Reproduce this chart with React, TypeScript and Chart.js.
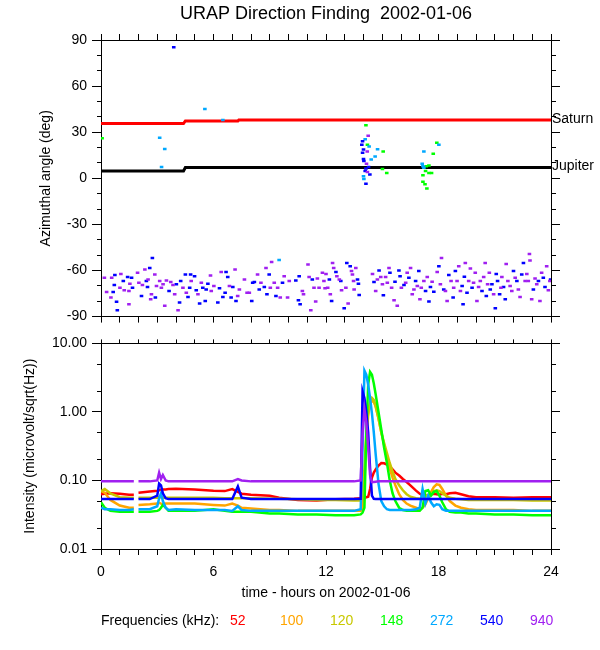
import React, { useEffect, useRef } from "react";
import { Chart, registerables } from "chart.js";

Chart.register(...registerables);

const FONT = "'Liberation Sans', Arial, Helvetica, sans-serif";

// ---------- texts ----------
const titleText = "URAP Direction Finding  2002-01-06";
const angleAxisTitle = "Azimuthal angle (deg)";
const intensityAxisTitle = "Intensity (microvolt/sqrt(Hz))";
const timeAxisTitle = "time - hours on 2002-01-06";
const legendTitle = "Frequencies (kHz):";

// ---------- ticks ----------
const hourLabels = [0, 6, 12, 18, 24];
const angleMajor = [-90, -60, -30, 0, 30, 60, 90];
const intensityMajor = [0.01, 0.1, 1, 10];
const intensityMinor = [0.02, 0.05, 0.2, 0.5, 2, 5];

// ---------- frequencies ----------
const freqLabels = ["52", "100", "120", "148", "272", "540", "940"];
const freqColors = ["#ff0000", "#ffa500", "#c8c800", "#00ff00", "#00a8ff", "#0000ff", "#a020f0"];

// ---------- planets (top panel) ----------
const planetNames = ["Saturn", "Jupiter"];
const saturnHours = [0, 4.4, 4.5, 7.3, 7.35, 24];
const saturnAngle = [35.6, 35.6, 37.3, 37.3, 38.0, 38.0];
const jupiterHours = [0, 4.4, 4.5, 24];
const jupiterAngle = [4.7, 4.7, 7.0, 7.0];

// ---------- direction-finding points [hour, deg] ----------
const az940: [number, number][] = [
  [0.18, -64.7], [0.30, -74.0], [0.57, -64.7], [0.53, -77.6], [1.06, -62.2], [1.01, -71.2], [1.24, -72.9],
  [1.49, -73.3], [1.54, -68.6], [1.49, -81.9], [1.95, -61.5], [2.02, -68.0], [2.21, -69.5], [2.34, -59.4],
  [2.51, -65.8], [2.65, -78.7], [2.69, -75.5], [2.87, -62.6], [2.96, -70.1], [3.13, -66.9], [3.22, -71.2],
  [3.31, -69.0], [3.40, -83.0], [3.49, -66.5], [3.72, -67.5], [3.84, -69.5], [3.93, -75.5], [4.11, -85.8],
  [4.37, -71.2], [4.55, -74.4], [4.81, -66.9], [5.17, -75.5], [5.35, -68.0], [5.84, -63.2], [5.88, -73.3],
  [6.02, -70.1], [6.41, -60.9], [6.85, -70.1], [7.15, -59.4], [7.29, -76.6], [7.38, -72.3], [7.65, -65.8],
  [7.79, -74.4], [7.91, -74.4], [8.35, -62.6], [8.53, -68.0], [8.80, -58.3], [9.03, -71.2], [9.10, -54.4],
  [9.24, -68.0], [9.42, -71.2], [9.56, -77.6], [9.77, -63.7], [9.95, -77.6], [10.04, -66.9], [10.74, -73.3],
  [10.80, -75.5], [11.04, -56.1], [11.10, -64.3], [11.19, -85.8], [11.36, -71.2], [11.45, -80.2], [11.54, -65.2],
  [11.63, -71.2], [11.81, -61.5], [11.89, -66.9], [11.95, -71.6],
  [12.0, -62.2], [12.09, -71.2], [12.23, -75.5], [12.35, -55.1], [12.41, -58.3], [12.58, -63.7], [12.71, -65.8],
  [12.83, -72.9], [13.06, -71.2], [13.18, -81.5], [13.36, -60.4], [13.41, -62.6], [13.47, -66.9], [13.50, -72.3],
  [13.59, -58.3], [14.48, -62.2], [14.65, -73.3], [14.74, -65.8], [14.92, -64.3], [15.01, -69.0], [15.18, -64.3],
  [15.27, -68.0], [15.36, -58.3], [15.50, -71.2], [15.63, -79.4], [15.80, -83.0], [16.02, -71.2], [16.25, -68.0],
  [16.33, -61.5], [16.51, -58.3], [16.60, -75.5], [16.69, -72.3], [16.87, -70.1], [17.01, -78.7], [17.08, -71.2],
  [17.22, -66.9], [17.40, -64.3], [17.66, -67.3], [17.93, -60.9], [18.10, -69.0], [18.16, -51.8], [18.37, -73.3],
  [18.46, -79.8], [18.67, -66.9], [18.81, -71.2], [18.99, -66.9], [19.08, -57.2], [19.17, -73.3], [19.43, -55.1],
  [19.61, -66.9], [19.70, -58.7], [19.87, -68.0], [19.96, -61.5], [20.05, -79.8], [20.14, -70.8], [20.23, -66.9],
  [20.41, -64.3], [20.49, -55.1], [20.62, -69.0], [20.71, -61.5], [20.94, -75.5], [21.33, -71.2], [21.38, -64.3],
  [21.61, -55.7], [21.70, -66.9], [21.82, -70.1], [21.91, -73.3], [22.09, -64.7], [22.26, -72.3], [22.35, -77.2],
  [22.62, -66.9], [22.71, -62.2], [22.79, -66.9], [22.85, -49.2], [22.88, -53.5], [22.97, -78.7], [23.15, -65.2],
  [23.24, -69.0], [23.41, -79.8], [23.50, -61.5], [23.77, -57.2], [23.86, -72.9], [23.94, -66.9],
  [14.25, 27.7], [14.20, 17.4], [14.16, 9.5], [14.21, 4.1],
];

const az540: [number, number][] = [
  [0.71, -69.5], [0.74, -63.0], [0.65, -74.0], [0.83, -80.4], [0.87, -85.8], [1.19, -66.9], [1.42, -64.3],
  [1.63, -64.7], [1.68, -71.2], [2.16, -76.6], [2.42, -66.9], [2.48, -70.8], [2.60, -58.3], [2.74, -51.8],
  [2.90, -77.6], [3.63, -73.3], [4.02, -69.0], [4.19, -80.9], [4.25, -66.9], [4.50, -62.6], [4.64, -77.2],
  [4.73, -71.2], [4.78, -62.6], [4.99, -63.7], [5.08, -72.9], [5.26, -81.5], [5.43, -71.2], [5.56, -79.8],
  [5.61, -72.3], [5.70, -68.6], [6.23, -80.9], [6.32, -71.6], [6.50, -77.2], [6.62, -74.4], [6.67, -60.9],
  [6.76, -64.3], [6.94, -77.6], [7.03, -70.8], [7.20, -79.8], [8.04, -79.8], [8.09, -68.0], [8.18, -67.5],
  [8.44, -72.3], [8.71, -70.8], [8.85, -75.5], [8.97, -62.6], [9.33, -76.6], [9.68, -68.0], [10.39, -66.5],
  [10.53, -79.4], [10.62, -81.9], [10.57, -63.7], [11.27, -65.8],
  [12.18, -65.8], [12.30, -79.8], [12.53, -60.9], [12.79, -66.9], [12.97, -84.5], [13.11, -55.1], [13.29, -57.2],
  [13.68, -65.8], [13.73, -68.6], [13.77, -75.9], [14.56, -67.5], [14.83, -60.0], [15.06, -76.1], [15.41, -61.5],
  [15.68, -67.3], [15.89, -60.0], [15.95, -63.7], [16.16, -69.5], [16.42, -64.7], [16.78, -66.9], [16.95, -60.4],
  [17.31, -73.3], [17.49, -80.2], [17.57, -70.8], [17.75, -73.8], [18.02, -57.2], [18.28, -72.3], [18.55, -63.0],
  [18.78, -77.6], [18.90, -60.4], [19.26, -70.1], [19.31, -81.9], [19.38, -64.1], [19.52, -74.4], [19.79, -71.2],
  [20.32, -73.3], [20.55, -76.6], [20.76, -72.3], [20.85, -69.0], [21.03, -84.5], [21.08, -62.2], [21.15, -66.9],
  [21.26, -75.5], [21.47, -70.8], [21.56, -78.7], [22.0, -60.4], [22.18, -66.9], [22.44, -62.6], [22.53, -55.1],
  [23.06, -72.3], [23.33, -66.9], [23.59, -64.7], [23.68, -70.8], [23.98, -65.8],
  [3.88, 85.3],
  [13.95, 24.1], [13.91, 21.9], [14.0, 18.7], [13.95, 16.6], [14.0, 12.5], [14.02, 11.2], [14.27, 7.3],
  [14.13, 6.3], [14.09, 4.8], [14.34, 2.4], [14.13, -3.6],
];

const az272: [number, number][] = [
  [3.13, 26.4], [3.40, 19.1], [3.23, 7.3], [5.54, 45.1], [6.50, 38.0], [9.50, -53.1],
  [14.09, 25.4], [14.30, 20.7], [14.75, 18.9], [14.62, 14.2], [14.41, 12.3], [14.0, 1.3], [14.02, -0.4],
  [17.22, 17.4], [17.13, 9.5], [17.17, 7.8], [17.22, 6.9], [18.02, 21.9],
];

const az148: [number, number][] = [
  [0.06, 26.0], [14.13, 34.6], [14.21, 21.9], [15.05, 17.4], [15.01, 6.1], [15.24, 3.5],
  [17.91, 23.2], [17.72, 15.9], [17.35, 7.8], [17.49, 8.4], [17.31, 4.8], [17.49, 3.5], [17.63, 3.5],
  [17.17, 2.0], [17.17, -2.3], [17.28, -3.8], [17.38, -6.6],
];

// ---------- intensity (bottom panel) ----------
const intensityHours = [
  0, 0.2, 0.5, 1.0, 1.5, 1.75, 1.85, 2.0, 2.6, 3.0,
  3.1, 3.2, 3.3, 3.45, 3.6, 4.0, 5.0, 6.0, 6.6, 7.0,
  7.3, 7.5, 8.0, 9.0, 9.5, 10.5, 11.5, 12.5, 13.5, 13.85,
  13.95, 14.05, 14.15, 14.25, 14.35, 14.45, 14.55, 14.65, 14.8, 14.95,
  15.1, 15.25, 15.4, 15.55, 15.7, 15.9, 16.1, 16.3, 16.5, 16.8,
  17.0, 17.15, 17.3, 17.45, 17.6, 17.75, 17.9, 18.05, 18.2, 18.4,
  18.6, 18.9, 19.2, 19.6, 20.0, 21.0, 22.0, 23.0, 24.0,
];

const i52 = [
  0.063, 0.064, 0.065, 0.064, 0.062, 0.062, null, 0.066, 0.069, 0.071,
  0.072, 0.073, 0.074, 0.074, 0.075, 0.076, 0.074, 0.071, 0.070, 0.075,
  0.068, 0.064, 0.062, 0.060, 0.056, 0.052, 0.051, 0.053, 0.054, 0.055,
  0.055, 0.056, 0.057, 0.058, 0.075, 0.11, 0.13, 0.145, 0.165, 0.18,
  0.178, 0.17, 0.16, 0.145, 0.13, 0.118, 0.105, 0.095, 0.085, 0.071,
  0.064, 0.061, 0.060, 0.061, 0.063, 0.064, 0.063, 0.062, 0.064, 0.063,
  0.065, 0.066, 0.063, 0.059, 0.057, 0.057, 0.056, 0.057, 0.057,
];
const i100 = [
  0.07, 0.066, 0.052, 0.043, 0.040, 0.040, null, 0.044, 0.045, 0.046,
  0.047, 0.046, 0.045, 0.046, 0.046, 0.046, 0.046, 0.044, 0.043, 0.046,
  0.043, 0.040, 0.039, 0.037, 0.037, 0.036, 0.036, 0.036, 0.036, 0.036,
  0.038, 0.1, 0.4, 0.9, 1.3, 1.45, 1.4, 1.2, 0.8, 0.5,
  0.33, 0.21, 0.15, 0.11, 0.085, 0.063, 0.052, 0.046, 0.043, 0.040,
  0.038, 0.040, 0.045, 0.055, 0.068, 0.080, 0.088, 0.086, 0.075, 0.060,
  0.050, 0.043, 0.040, 0.038, 0.037, 0.037, 0.037, 0.036, 0.036,
];
const i120 = [
  0.07, 0.075, 0.065, 0.057, 0.056, 0.056, null, 0.056, 0.056, 0.056,
  0.057, 0.057, 0.056, 0.056, 0.056, 0.056, 0.056, 0.056, 0.055, 0.055,
  0.055, 0.055, 0.055, 0.054, 0.054, 0.053, 0.052, 0.052, 0.051, 0.051,
  0.06, 0.15, 0.5, 1.0, 1.4, 1.6, 1.5, 1.2, 0.8, 0.5,
  0.35, 0.25, 0.18, 0.135, 0.105, 0.085, 0.072, 0.063, 0.058, 0.055,
  0.054, 0.055, 0.058, 0.062, 0.066, 0.07, 0.072, 0.07, 0.065, 0.06,
  0.056, 0.054, 0.053, 0.052, 0.052, 0.052, 0.052, 0.051, 0.051,
];
const i148 = [
  0.048, 0.04, 0.036, 0.035, 0.035, 0.035, null, 0.035, 0.035, 0.036,
  0.037, 0.04, 0.044, 0.04, 0.036, 0.036, 0.036, 0.038, 0.036, 0.035,
  0.035, 0.035, 0.035, 0.033, 0.033, 0.032, 0.032, 0.031, 0.031, 0.032,
  0.034, 0.04, 0.5, 2.5, 3.85, 3.5, 2.6, 1.8, 1.0, 0.55,
  0.3, 0.18, 0.1, 0.065, 0.05, 0.04, 0.037, 0.036, 0.036, 0.036,
  0.036, 0.04, 0.07, 0.072, 0.06, 0.068, 0.07, 0.06, 0.048, 0.038,
  0.035, 0.034, 0.034, 0.033, 0.033, 0.032, 0.032, 0.031, 0.031,
];
const i272 = [
  0.04, 0.038, 0.038, 0.037, 0.037, 0.038, null, 0.038, 0.038, 0.042,
  0.055, 0.065, 0.05, 0.04, 0.037, 0.038, 0.037, 0.037, 0.037, 0.036,
  0.042, 0.037, 0.036, 0.036, 0.036, 0.036, 0.036, 0.036, 0.036, 0.038,
  0.3, 4.0, 3.5, 2.5, 1.6, 0.95, 0.5, 0.24, 0.09, 0.05,
  0.042, 0.038, 0.037, 0.037, 0.037, 0.037, 0.037, 0.037, 0.037, 0.038,
  0.04, 0.075, 0.046, 0.06, 0.048, 0.042, 0.045, 0.044, 0.038, 0.036,
  0.036, 0.036, 0.036, 0.036, 0.036, 0.036, 0.036, 0.036, 0.036,
];
const i540 = [
  0.0535, 0.0535, 0.0535, 0.0535, 0.0535, 0.0535, null, 0.0535, 0.0535, 0.06,
  0.09, 0.085, 0.065, 0.055, 0.0535, 0.0535, 0.0535, 0.0535, 0.0535, 0.0535,
  0.082, 0.056, 0.0535, 0.0535, 0.0535, 0.0535, 0.0535, 0.0535, 0.0535, 0.054,
  2.0, 1.6, 1.0, 0.5, 0.15, 0.06, 0.054, 0.0535, 0.0535, 0.0535,
  0.0535, 0.0535, 0.0535, 0.0535, 0.0535, 0.0535, 0.0535, 0.0535, 0.0535, 0.0535,
  0.0535, 0.0535, 0.0535, 0.0535, 0.0535, 0.0535, 0.0535, 0.0535, 0.0535, 0.0535,
  0.0535, 0.0535, 0.0535, 0.0535, 0.0535, 0.0535, 0.0535, 0.0535, 0.0535,
];
const i940 = [
  0.097, 0.097, 0.097, 0.097, 0.097, 0.097, null, 0.097, 0.097, 0.1,
  0.13, 0.105, 0.12, 0.1, 0.097, 0.097, 0.097, 0.097, 0.097, 0.097,
  0.105, 0.1, 0.097, 0.097, 0.097, 0.097, 0.097, 0.097, 0.097, 0.1,
  0.5, 1.1, 0.7, 0.3, 0.12, 0.095, 0.095, 0.096, 0.097, 0.097,
  0.097, 0.097, 0.097, 0.097, 0.097, 0.097, 0.097, 0.097, 0.097, 0.097,
  0.097, 0.097, 0.097, 0.097, 0.097, 0.097, 0.097, 0.097, 0.097, 0.097,
  0.097, 0.097, 0.097, 0.097, 0.097, 0.097, 0.097, 0.097, 0.097,
];
const intensitySeries = [i52, i100, i120, i148, i272, i540, i940];

// ---------- helpers ----------
function axis(side: string, kind: string, min: number, max: number, size: number, tickLen: number, opts: any) {
  const horizontal = side === "top" || side === "bottom";
  const fixed: number[] | undefined = opts.ticks;
  return {
    type: kind,
    axis: horizontal ? "x" : "y",
    position: side,
    min,
    max,
    afterBuildTicks: fixed ? (s: any) => { s.ticks = fixed.map((v) => ({ value: v })); } : undefined,
    afterFit: (s: any) => { if (horizontal) s.height = size; else s.width = size; },
    ticks: {
      display: !!opts.labels,
      stepSize: opts.step,
      autoSkip: false,
      maxRotation: 0,
      minRotation: 0,
      padding: opts.labelPadding ?? 0,
      color: "#000",
      font: { family: FONT, size: 14 },
      callback: opts.labels ? (v: any) => opts.labels(Number(v)) : () => "",
    },
    grid: { display: true, drawOnChartArea: false, drawTicks: true, tickLength: tickLen, tickColor: "#000", tickWidth: 1 },
    border: { display: !!opts.border, color: "#000", width: 1 },
    title: opts.title ?? { display: false },
  };
}

const hourLabel = (v: number) => {
  const r = Math.round(v);
  return Math.abs(v - r) < 1e-6 && hourLabels.includes(r) ? String(r) : "";
};

const topPlugin = {
  id: "topText",
  afterDraw(chart: any) {
    const { ctx, chartArea, scales } = chart;
    ctx.save();
    ctx.fillStyle = "#000";
    ctx.font = `18px ${FONT}`;
    ctx.textAlign = "center";
    ctx.textBaseline = "alphabetic";
    ctx.fillText(titleText, (chartArea.left + chartArea.right) / 2, 19);
    ctx.font = `14px ${FONT}`;
    ctx.textAlign = "left";
    ctx.textBaseline = "middle";
    const finals = [saturnAngle[saturnAngle.length - 1], jupiterAngle[jupiterAngle.length - 1]];
    planetNames.forEach((name, i) => {
      ctx.fillText(name, chartArea.right + 1, scales.y.getPixelForValue(finals[i]) - 1);
    });
    ctx.restore();
  },
};

const pointSet = (label: string, pts: [number, number][], color: string) => ({
  label,
  data: pts.map(([x, y]) => ({ x, y })),
  pointStyle: "line",
  pointRadius: 1.8,
  pointBorderWidth: 2.5,
  pointBorderColor: color,
  pointBackgroundColor: color,
  borderColor: color,
  order: 0,
});

export default function App() {
  const topRef = useRef<HTMLCanvasElement>(null);
  const botRef = useRef<HTMLCanvasElement>(null);

  useEffect(() => {
    const common = {
      responsive: false,
      animation: false,
      events: [],
      layout: { padding: 0 },
      plugins: { legend: { display: false }, tooltip: { enabled: false }, title: { display: false } },
    };

    const c1 = new Chart(topRef.current as HTMLCanvasElement, {
      type: "scatter",
      data: {
        datasets: [
          pointSet("940", az940, freqColors[6]),
          pointSet("540", az540, freqColors[5]),
          pointSet("272", az272, freqColors[4]),
          pointSet("148", az148, freqColors[3]),
          {
            label: "Saturn",
            data: saturnHours.map((x, i) => ({ x, y: saturnAngle[i] })),
            showLine: true,
            borderColor: "#ff0000",
            borderWidth: 3,
            pointRadius: 0,
            order: 5,
          },
          {
            label: "Jupiter",
            data: jupiterHours.map((x, i) => ({ x, y: jupiterAngle[i] })),
            showLine: true,
            borderColor: "#000000",
            borderWidth: 3,
            pointRadius: 0,
            order: 5,
          },
        ],
      } as any,
      options: {
        ...common,
        scales: {
          x: axis("bottom", "linear", 0, 24, 11, 6, { step: 1, border: true }),
          xTop: axis("top", "linear", 0, 24, 40, 6, { step: 1, border: true }),
          yMinor: axis("left", "linear", -90, 90, 0, 4, { step: 10 }),
          y: axis("left", "linear", -90, 90, 101, 9, {
            ticks: angleMajor,
            labels: (v: number) => String(v),
            labelPadding: 5,
            border: true,
            title: { display: true, text: angleAxisTitle, color: "#000", font: { family: FONT, size: 14 }, padding: { top: 38, bottom: 0 } },
          }),
          yRMinor: axis("right", "linear", -90, 90, 0, 5, { step: 10 }),
          yR: axis("right", "linear", -90, 90, 49, 9, { ticks: angleMajor, border: true }),
        },
      } as any,
      plugins: [topPlugin],
    });

    const c2 = new Chart(botRef.current as HTMLCanvasElement, {
      type: "line",
      data: {
        datasets: intensitySeries.map((vals, k) => ({
          label: freqLabels[k],
          data: intensityHours.map((x, i) => ({ x, y: vals[i] })),
          borderColor: freqColors[k],
          backgroundColor: freqColors[k],
          borderWidth: 2.5,
          pointRadius: 0,
          tension: 0,
          spanGaps: false,
          order: 10 - k,
        })),
      } as any,
      options: {
        ...common,
        scales: {
          x: axis("bottom", "linear", 0, 24, 101, 6, {
            step: 1,
            labels: hourLabel,
            labelPadding: 9,
            border: true,
            title: { display: true, text: timeAxisTitle, color: "#000", font: { family: FONT, size: 14 }, padding: { top: 0, bottom: 48 } },
          }),
          xTop: axis("top", "linear", 0, 24, 9, 4, { step: 1, border: true }),
          yMinor: axis("left", "logarithmic", 0.01, 10, 0, 4, { ticks: intensityMinor }),
          y: axis("left", "logarithmic", 0.01, 10, 101, 9, {
            ticks: intensityMajor,
            labels: (v: number) => v.toFixed(2),
            labelPadding: 5,
            border: true,
            title: { display: true, text: intensityAxisTitle, color: "#000", font: { family: FONT, size: 14 }, padding: { top: 22, bottom: 0 } },
          }),
          yRMinor: axis("right", "logarithmic", 0.01, 10, 0, 5, { ticks: intensityMinor }),
          yR: axis("right", "logarithmic", 0.01, 10, 49, 9, { ticks: intensityMajor, border: true }),
        },
      } as any,
    });

    return () => {
      c1.destroy();
      c2.destroy();
    };
  }, []);

  const legendStyle = { position: "absolute" as const, top: 611, font: `14px ${FONT}`, lineHeight: "18px", whiteSpace: "nowrap" as const };

  return (
    <div style={{ position: "fixed", left: 0, top: 0, width: 600, height: 650, background: "#fff", fontFamily: FONT }}>
      <canvas ref={topRef} width={600} height={330} style={{ position: "absolute", left: 0, top: 0 }} />
      <canvas ref={botRef} width={600} height={320} style={{ position: "absolute", left: 0, top: 330 }} />
      <div style={{ ...legendStyle, left: 101, color: "#000" }}>{legendTitle}</div>
      {freqLabels.map((f, i) => (
        <div key={f} style={{ ...legendStyle, left: 230 + 50 * i, color: freqColors[i] }}>{f}</div>
      ))}
    </div>
  );
}
